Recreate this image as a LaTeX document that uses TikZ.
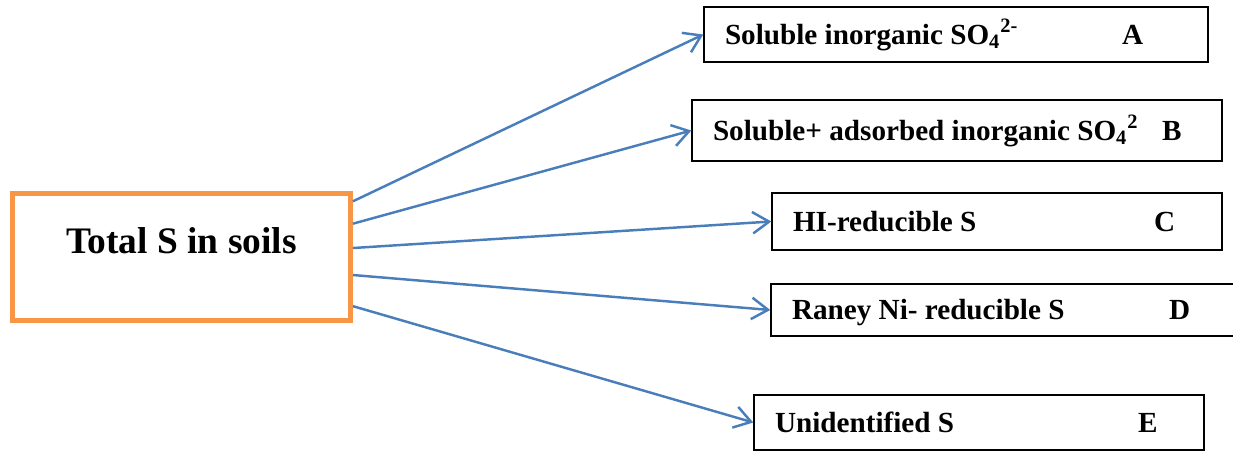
\documentclass[tikz,border=0pt]{standalone}
\usepackage{fontspec}
\setmainfont{Liberation Serif}
\usepackage{xcolor}
\definecolor{arrowblue}{HTML}{4A7EBB}
\definecolor{soilorange}{HTML}{F79646}
\usetikzlibrary{arrows.meta}

\begin{document}
\begin{tikzpicture}[
  >={Straight Barb[length=3.3mm,width=4.3mm]},
  part/.style={draw,line width=0.8pt,align=flush left,inner xsep=0.42cm,
    text width=#1,text height=0.45cm,text depth=0.07cm,
    font=\bfseries\fontsize{16.6}{19}\selectfont},
  link/.style={arrowblue,line width=1.4pt,->}]
  \useasboundingbox (0,0) rectangle (24.66,9.02);
  \node[draw=soilorange,line width=2.8pt,minimum width=6.76cm,minimum height=2.54cm,
    text height=0.5cm,text depth=0.66cm,font=\bfseries\fontsize{21.3}{25}\selectfont]
    (total) at (3.63,3.88) {Total S in soils};
  \node[part=9.24cm,minimum height=1.10cm] (a) at (19.12,8.33)
    {\makebox[7.94cm][l]{Soluble inorganic SO\textsubscript{4}\textsuperscript{2-}}A};
  \node[part=9.76cm,minimum height=1.22cm] (b) at (19.14,6.41)
    {\makebox[8.98cm][l]{Soluble+ adsorbed inorganic SO\textsubscript{4}\textsuperscript{2}}B};
  \node[part=8.16cm,minimum height=1.14cm] (c) at (19.94,4.59)
    {\makebox[7.22cm][l]{HI-reducible S}C};
  \node[part=8.64cm,minimum height=1.04cm] (d) at (20.16,2.82)
    {\makebox[7.54cm][l]{Raney Ni- reducible S}D};
  \node[part=8.16cm,minimum height=1.10cm] (e) at (19.58,0.57)
    {\makebox[7.26cm][l]{Unidentified S}E};
  \draw[link] (total.18) -- (a.west);
  \draw[link] (total.11) -- (b.west);
  \draw[link] (total.3) -- (c.west);
  \draw[link] (total.-6) -- (d.west);
  \draw[link] (total.-16.5) -- (e.west);
\end{tikzpicture}
\end{document}
